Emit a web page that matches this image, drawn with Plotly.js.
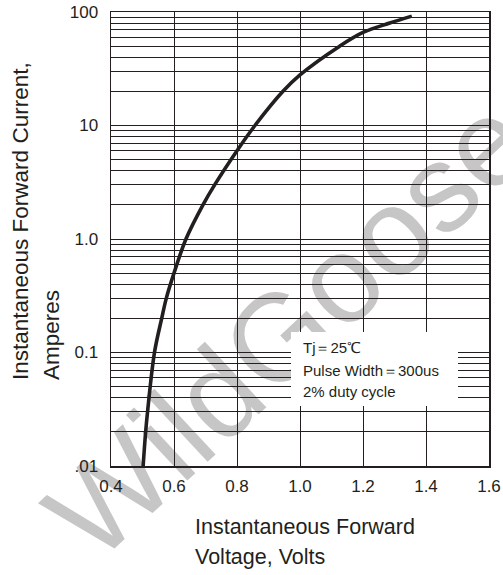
<!DOCTYPE html>
<html>
<head>
<meta charset="utf-8">
<script src="https://cdn.plot.ly/plotly-3.0.1.min.js"></script>
<style>
html,body{margin:0;padding:0;background:#fff;}
#chart{width:503px;height:575px;}
</style>
</head>
<body>
<div id="chart"></div>
<script>
// Forward voltage (V) and forward current (A)
var voltage = [0.502, 0.510, 0.516, 0.538, 0.561, 0.5755, 0.600, 0.638, 0.692, 0.729, 0.800, 0.857, 0.946, 1.000, 1.126, 1.200, 1.285, 1.355];
var current = [0.01, 0.02, 0.03, 0.1, 0.2, 0.3, 0.5, 1.0, 2.0, 3.0, 6.0, 10, 20, 27.9, 50, 66, 80, 92];

var xTickVals = [0.4, 0.6, 0.8, 1.0, 1.2, 1.4, 1.6];
var xTickText = ["0.4", "0.6", "0.8", "1.0", "1.2", "1.4", "1.6"];
var yTickVals = [0.01, 0.1, 1, 10, 100];
var yTickText = [".01", "0.1", "1.0", "10", "100"];

var noteLines = ["Tj\uFF1D25\u2103", "Pulse Width\uFF1D300us", "2% duty cycle"];
var xTitleLines = ["Instantaneous Forward", "Voltage, Volts"];
var yTitleLines = ["Instantaneous Forward Current,", "Amperes"];
var watermark = "WildGoose";

var minorVals = [];
[0.01, 0.1, 1, 10].forEach(function (d) {
  for (var k = 2; k <= 9; k++) minorVals.push(+(d * k).toPrecision(3));
});

var INK = "#231f20";
var FONT = "Liberation Sans, Arial, sans-serif";

var trace = {
  x: voltage,
  y: current,
  type: "scatter",
  mode: "lines",
  line: {color: INK, width: 3.6, shape: "spline", smoothing: 1},
  hoverinfo: "skip"
};

// pixel helpers for paper coordinates
var L = 111, R = 14, T = 12, B = 109, W = 503, H = 575;
var PW = W - L - R, PH = H - T - B;
function px(x) { return (x - L) / PW; }
function py(y) { return (H - B - y) / PH; }

var annotations = [];
// note inside the white box
var noteY = [347.5, 370, 391];
noteLines.forEach(function (t, i) {
  annotations.push({
    xref: "paper", yref: "paper", x: px(301), y: py(noteY[i]),
    xanchor: "left", yanchor: "middle", showarrow: false, text: t,
    font: {family: FONT, size: 15, color: INK}
  });
});
// x title
var xtY = [527, 557];
xTitleLines.forEach(function (t, i) {
  annotations.push({
    xref: "paper", yref: "paper", x: px(193), y: py(xtY[i]),
    xanchor: "left", yanchor: "middle", showarrow: false, text: t,
    font: {family: FONT, size: 21.5, color: INK}
  });
});
// y title
var ytX = [20, 51];
yTitleLines.forEach(function (t, i) {
  annotations.push({
    xref: "paper", yref: "paper", x: px(ytX[i]), y: py(382),
    xanchor: "center", yanchor: "bottom", showarrow: false, text: t,
    textangle: -90,
    font: {family: FONT, size: 22.5, color: INK}
  });
});

var layout = {
  width: W, height: H,
  margin: {l: L, r: R, t: T, b: B, pad: 0},
  paper_bgcolor: "#fff", plot_bgcolor: "#fff",
  showlegend: false,
  xaxis: {
    range: [0.4, 1.6], tickmode: "array", tickvals: xTickVals, ticktext: xTickText,
    showgrid: true, gridcolor: INK, gridwidth: 1,
    showline: true, mirror: true, linecolor: INK, linewidth: 1.5,
    zeroline: false, ticks: "", ticklabelstandoff: 4,
    tickfont: {family: FONT, size: 17, color: INK}
  },
  yaxis: {
    type: "log", range: [-2, 2], tickmode: "array", tickvals: yTickVals, ticktext: yTickText,
    showgrid: true, gridcolor: INK, gridwidth: 1,
    showline: true, mirror: true, linecolor: INK, linewidth: 1.5,
    zeroline: false, ticks: "", ticklabelstandoff: 8,
    tickfont: {family: FONT, size: 17, color: INK},
    minor: {tickmode: "array", tickvals: minorVals, showgrid: true, gridcolor: INK, gridwidth: 1, ticks: ""}
  },
  shapes: [
    {
      // watermark: under the curve and the axis labels
      type: "rect", xref: "paper", yref: "paper",
      x0: px(279), x1: px(281), y0: py(320), y1: py(318),
      fillcolor: "rgba(0,0,0,0)", line: {width: 0}, layer: "between",
      label: {text: watermark, textangle: -43, textposition: "middle center",
              font: {family: FONT, size: 124, color: "#c6c6c6"}}
    },
    {
      type: "rect", xref: "paper", yref: "paper",
      x0: px(291), x1: px(458), y0: py(406), y1: py(332),
      fillcolor: "#fff", line: {width: 0}, layer: "above"
    }
  ],
  annotations: annotations
};

Plotly.newPlot("chart", [trace], layout, {displayModeBar: false, staticPlot: true});
</script>
</body>
</html>
